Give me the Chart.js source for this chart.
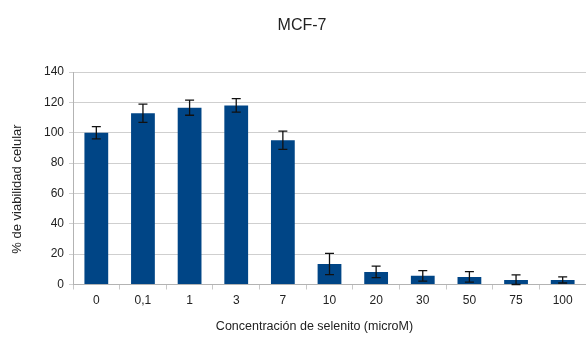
<!DOCTYPE html>
<html>
<head>
<meta charset="utf-8">
<script src="https://cdn.jsdelivr.net/npm/chart.js@4/dist/chart.umd.min.js"></script>
<style>
  html, body { margin: 0; padding: 0; background: #ffffff; }
  #wrap { width: 586px; height: 338px; }
</style>
</head>
<body>
<div id="wrap"><canvas id="c" width="586" height="338"></canvas></div>
<script>
// Selenite concentration (microM) and cell viability (%)
const concentrations = ['0', '0,1', '1', '3', '7', '10', '20', '30', '50', '75', '100'];
const viability = [100, 112.8, 116.5, 118, 95, 13.5, 8.3, 5.7, 5, 3, 3];
const viabilityError = [4, 6, 5, 4.5, 6, 7, 3.8, 3.5, 3.5, 3.3, 2];
const yTicks = [0, 20, 40, 60, 80, 100, 120, 140];

const chartTitle = 'MCF-7';
const xTitle = 'Concentración de selenito (microM)';
const yTitle = '% de viabilidad celular';

// Symmetric error bars with caps, drawn on top of each bar
const errorBars = {
  id: 'errorBars',
  afterDatasetsDraw(chart) {
    const ctx = chart.ctx;
    const y = chart.scales.y;
    const meta = chart.getDatasetMeta(0);
    ctx.save();
    ctx.strokeStyle = '#111111';
    ctx.lineWidth = 1.3;
    meta.data.forEach((bar, i) => {
      const v = viability[i], e = viabilityError[i];
      const top = y.getPixelForValue(v + e);
      const bot = y.getPixelForValue(Math.max(0, v - e));
      const cap = 4.5;
      ctx.beginPath();
      ctx.moveTo(bar.x, top); ctx.lineTo(bar.x, bot);
      ctx.moveTo(bar.x - cap, top); ctx.lineTo(bar.x + cap, top);
      ctx.moveTo(bar.x - cap, bot); ctx.lineTo(bar.x + cap, bot);
      ctx.stroke();
    });
    ctx.restore();
  }
};

// Chart title and axis titles
const titles = {
  id: 'titles',
  afterDraw(chart) {
    const ctx = chart.ctx;
    ctx.save();
    ctx.fillStyle = '#222222';
    ctx.textAlign = 'center';
    ctx.textBaseline = 'middle';
    ctx.font = '16px "Liberation Sans"';
    ctx.fillText(chartTitle, 302, 26);
    ctx.font = '12.5px "Liberation Sans"';
    ctx.fillText(xTitle, 314.5, 327);
    ctx.translate(17, 189);
    ctx.rotate(-Math.PI / 2);
    ctx.font = '13px "Liberation Sans"';
    ctx.fillText(yTitle, 0, 0);
    ctx.restore();
  }
};

new Chart(document.getElementById('c'), {
  type: 'bar',
  data: {
    labels: concentrations,
    datasets: [{
      data: viability,
      backgroundColor: '#004586',
      borderWidth: 0,
      categoryPercentage: 1,
      barPercentage: 0.51
    }]
  },
  options: {
    responsive: false,
    animation: false,
    devicePixelRatio: 1,
    layout: { padding: { left: 0, right: -2, top: 72, bottom: 0 } },
    plugins: {
      legend: { display: false },
      tooltip: { enabled: false },
      title: { display: false }
    },
    scales: {
      x: {
        afterFit(scale) { scale.height = 53.5; },
        grid: { display: true, drawOnChartArea: false, drawTicks: true, tickLength: 5, color: '#c8c8c8', offset: true },
        border: { display: true, color: '#b3b3b3' },
        ticks: { color: '#222222', font: { family: 'Liberation Sans', size: 12 }, padding: 4, maxRotation: 0, autoSkip: false }
      },
      y: {
        min: 0,
        max: 140,
        afterFit(scale) { scale.width = 73; },
        afterBuildTicks(scale) { scale.ticks = yTicks.map(v => ({ value: v })); },
        grid: { color: '#cfcfcf', lineWidth: 1, drawTicks: true, tickLength: 4 },
        border: { display: true, color: '#b3b3b3' },
        ticks: { color: '#222222', font: { family: 'Liberation Sans', size: 12 }, padding: 5 }
      }
    }
  },
  plugins: [errorBars, titles]
});
</script>
</body>
</html>
